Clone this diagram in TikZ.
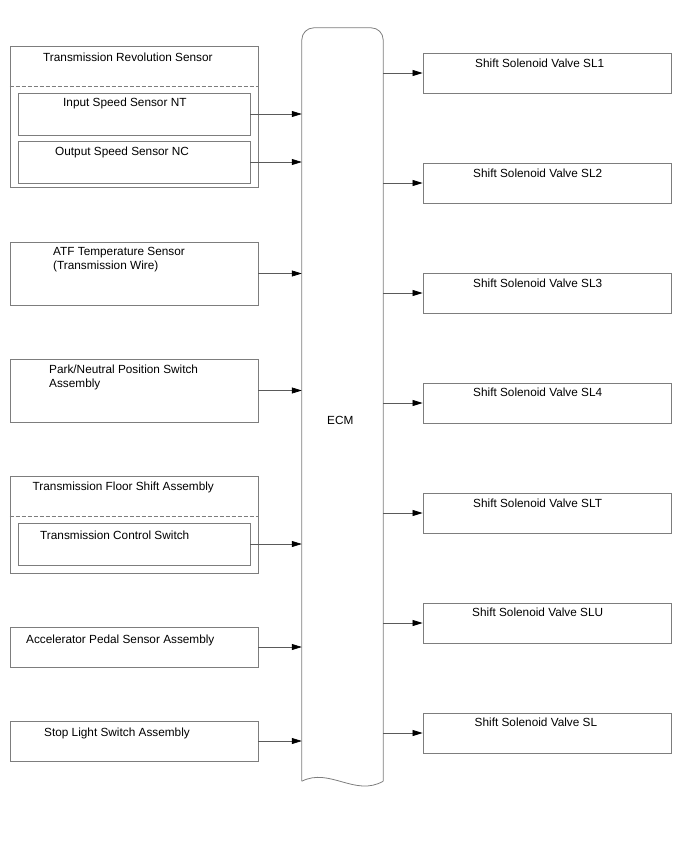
\documentclass[tikz,border=0pt]{standalone}
\usepackage{fontspec}
\setmainfont{Liberation Sans}
\usetikzlibrary{arrows.meta}
\definecolor{framegray}{RGB}{125,125,125}
\definecolor{wiregray}{RGB}{90,90,90}

\begin{document}
\begin{tikzpicture}[x=1pt, y=-1pt,
        box/.style   = {draw=framegray, line width=0.8pt, inner sep=0pt},
        txt/.style   = {inner sep=0pt, anchor=west, align=left, font=\fontsize{11.8}{14}\selectfont},
        sep/.style   = {draw=framegray, line width=0.7pt, dash pattern=on 4pt off 2pt},
        sig/.style   = {draw=wiregray, line width=0.7pt, -{Triangle[length=10pt, width=6pt, color=black]}}]
    \useasboundingbox (0,0) rectangle (688,852);

    % ECM column
    \node[inner sep=0pt, minimum width=81, minimum height=753]                    (ecm)     at (342.5,404.5) {};
    \draw[box, rounded corners=12] (ecm.south west) -- (ecm.north west) -- (ecm.north east) -- (ecm.south east);
    \draw[box] (ecm.south east) .. controls ([xshift=-28, yshift=-16]ecm.south east)
                                 and ([xshift=28, yshift=14]ecm.south west) .. (ecm.south west);
    \node[txt]                                                                    (ecmlbl)  at (327,420)     {ECM};

    % inputs
    \node[box, minimum width=248, minimum height=141]                             (revgrp)  at (134,116.5)   {};
    \node[txt]                                                                    (revlbl)  at (43,57)       {Transmission Revolution Sensor};
    \draw[sep] ([yshift=-41]revgrp.north west) -- ([yshift=-41]revgrp.north east);
    \node[box, minimum width=232, minimum height=42]                              (ntbox)   at (134,114)     {};
    \node[txt]                                                                    (ntlbl)   at (63,103)      {Input Speed Sensor NT};
    \node[box, minimum width=232, minimum height=42]                              (ncbox)   at (134,162)     {};
    \node[txt]                                                                    (nclbl)   at (55,152)      {Output Speed Sensor NC};

    \node[box, minimum width=248, minimum height=63]                              (atfbox)  at (134,273.5)   {};
    \node[txt]                                                                    (atflbl)  at (53,259.5)    {ATF Temperature Sensor\\(Transmission Wire)};

    \node[box, minimum width=248, minimum height=63]                              (pnpbox)  at (134,390.5)   {};
    \node[txt]                                                                    (pnplbl)  at (49,377)      {Park/Neutral Position Switch\\Assembly};

    \node[box, minimum width=248, minimum height=97]                              (flrgrp)  at (134,524.5)   {};
    \node[txt]                                                                    (flrlbl)  at (32.5,487)    {Transmission Floor Shift Assembly};
    \draw[sep] ([yshift=-41]flrgrp.north west) -- ([yshift=-41]flrgrp.north east);
    \node[box, minimum width=232, minimum height=42]                              (tcsbox)  at (134,544)     {};
    \node[txt]                                                                    (tcslbl)  at (40,535)      {Transmission Control Switch};

    \node[box, minimum width=248, minimum height=40]                              (accbox)  at (134,647)     {};
    \node[txt]                                                                    (acclbl)  at (26,640)      {Accelerator Pedal Sensor Assembly};

    \node[box, minimum width=248, minimum height=40]                              (stpbox)  at (134,741)     {};
    \node[txt]                                                                    (stplbl)  at (44,733)      {Stop Light Switch Assembly};

    % outputs
    \node[box, minimum width=248, minimum height=40]                              (sl1box)  at (547,73)      {};
    \node[txt]                                                                    (sl1lbl)  at (475,63)      {Shift Solenoid Valve SL1};
    \node[box, minimum width=248, minimum height=40]                              (sl2box)  at (547,183)     {};
    \node[txt]                                                                    (sl2lbl)  at (473,173)     {Shift Solenoid Valve SL2};
    \node[box, minimum width=248, minimum height=40]                              (sl3box)  at (547,293)     {};
    \node[txt]                                                                    (sl3lbl)  at (473,283)     {Shift Solenoid Valve SL3};
    \node[box, minimum width=248, minimum height=40]                              (sl4box)  at (547,403)     {};
    \node[txt]                                                                    (sl4lbl)  at (473,392)     {Shift Solenoid Valve SL4};
    \node[box, minimum width=248, minimum height=40]                              (sltbox)  at (547,513)     {};
    \node[txt]                                                                    (sltlbl)  at (473,503)     {Shift Solenoid Valve SLT};
    \node[box, minimum width=248, minimum height=40]                              (slubox)  at (547,623)     {};
    \node[txt]                                                                    (slulbl)  at (472,612)     {Shift Solenoid Valve SLU};
    \node[box, minimum width=248, minimum height=40]                              (slbox)   at (547,733)     {};
    \node[txt]                                                                    (sllbl)   at (474.5,722)   {Shift Solenoid Valve SL};

    % signal lines
    \draw[sig] (ntbox.east)  -- (ecm.west |- ntbox.east);
    \draw[sig] (ncbox.east)  -- (ecm.west |- ncbox.east);
    \draw[sig] (atfbox.east) -- (ecm.west |- atfbox.east);
    \draw[sig] (pnpbox.east) -- (ecm.west |- pnpbox.east);
    \draw[sig] (tcsbox.east) -- (ecm.west |- tcsbox.east);
    \draw[sig] (accbox.east) -- (ecm.west |- accbox.east);
    \draw[sig] (stpbox.east) -- (ecm.west |- stpbox.east);

    \draw[sig] (ecm.east |- sl1box.west) -- (sl1box.west);
    \draw[sig] (ecm.east |- sl2box.west) -- (sl2box.west);
    \draw[sig] (ecm.east |- sl3box.west) -- (sl3box.west);
    \draw[sig] (ecm.east |- sl4box.west) -- (sl4box.west);
    \draw[sig] (ecm.east |- sltbox.west) -- (sltbox.west);
    \draw[sig] (ecm.east |- slubox.west) -- (slubox.west);
    \draw[sig] (ecm.east |- slbox.west)  -- (slbox.west);
\end{tikzpicture}
\end{document}
